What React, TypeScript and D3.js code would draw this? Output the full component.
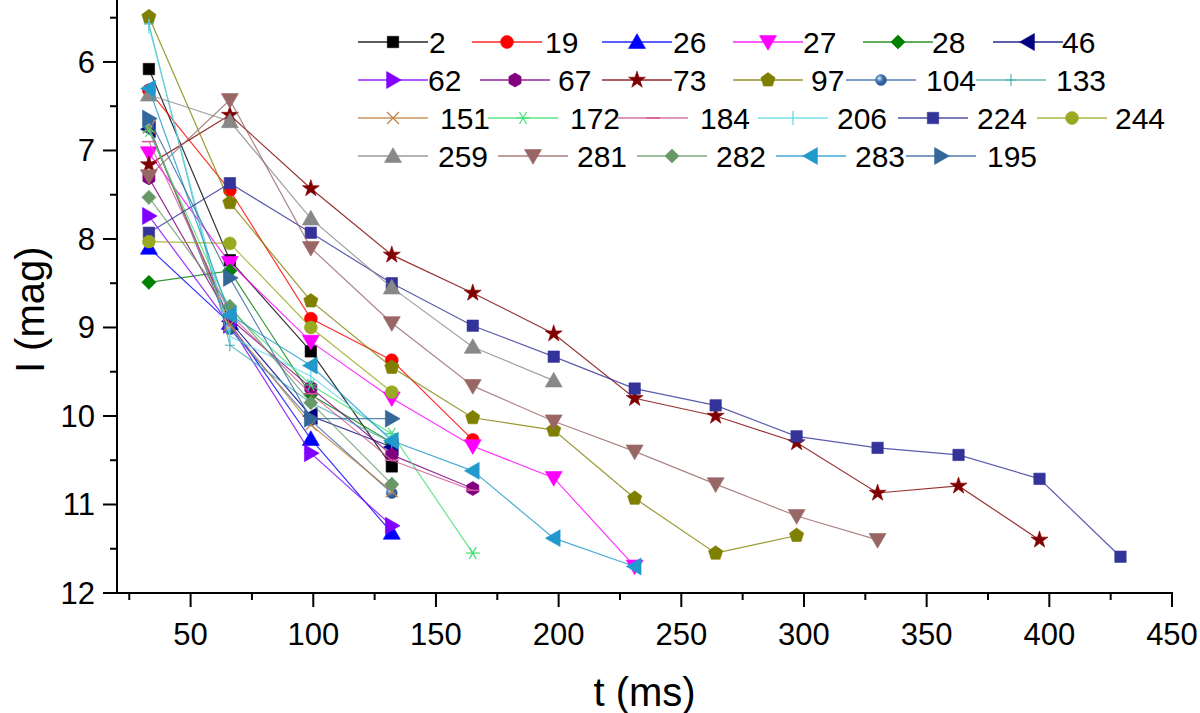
import * as d3 from 'd3';
import * as React from 'react';

// sample times (ms)
const times = [33, 66, 99, 132, 165, 198, 231, 264, 297, 330, 363, 396, 429];

// magnitudes per star
const s2 = [6.08, 8.24, 9.27, 10.57];
const s19 = [6.32, 7.45, 8.9, 9.37, 10.27];
const s26 = [8.1, 8.95, 10.26, 11.32];
const s27 = [7.03, 8.27, 9.16, 9.8, 10.34, 10.7, 11.7];
const s28 = [8.49, 8.36, 9.76, 10.3];
const s46 = [6.76, 8.93, 10.0, 10.35];
const s62 = [7.74, 8.97, 10.42, 11.24];
const s67 = [7.31, 8.9, 9.68, 10.44, 10.82];
const s73 = [7.16, 6.6, 7.43, 8.18, 8.61, 9.07, 9.8, 10.0, 10.3, 10.87, 10.79, 11.4];
const s97 = [5.49, 7.59, 8.7, 9.45, 10.02, 10.16, 10.93, 11.55, 11.35];
const s104 = [6.72, 9.02, 10.05, 10.87];
const s133 = [5.57, 9.2, 9.85, 10.3];
const s151 = [6.74, 8.97, 10.1, 10.85];
const s172 = [6.78, 8.8, 9.65, 10.2, 11.55];
const s184 = [6.9, 8.85, 9.75, 10.5, 10.84];
const s206 = [5.6, 9.1, 9.55, 10.25];
const s224 = [7.93, 7.37, 7.93, 8.5, 8.98, 9.33, 9.69, 9.88, 10.23, 10.36, 10.44, 10.71, 11.59];
const s244 = [8.03, 8.05, 9.0, 9.73];
const s259 = [6.37, 6.67, 7.77, 8.55, 9.22, 9.6];
const s281 = [7.29, 6.43, 8.1, 8.95, 9.66, 10.06, 10.4, 10.77, 11.13, 11.4];
const s282 = [7.53, 8.76, 9.85, 10.77];
const s283 = [6.3, 8.86, 9.43, 10.28, 10.62, 11.38, 11.7];
const s195 = [6.64, 8.44, 10.03, 10.03];

const names = ['2', '19', '26', '27', '28', '46', '62', '67', '73', '97', '104', '133', '151', '172', '184', '206', '224', '244', '259', '281', '282', '283', '195'];
const values = [s2, s19, s26, s27, s28, s46, s62, s67, s73, s97, s104, s133, s151, s172, s184, s206, s224, s244, s259, s281, s282, s283, s195];

const xTicks = [50, 100, 150, 200, 250, 300, 350, 400, 450];
const yTicks = [6, 7, 8, 9, 10, 11, 12];

// styles
const colors = ['#000000', '#ff0000', '#0000ff', '#ff00ff', '#008000', '#000080', '#8000ff', '#800080', '#800000', '#808000', '#3366a6', '#40b0b0', '#c08040', '#40e070', '#d05a9a', '#60d8e8', '#333399', '#99aa22', '#888888', '#996666', '#669966', '#2299cc', '#336699'];
const symbols = ['square', 'circle', 'up', 'down', 'diamond', 'left', 'right', 'hexagon', 'star', 'pentagon', 'sphere', 'plus', 'times', 'asterisk', 'hbar', 'vbar', 'square', 'circle', 'up', 'down', 'diamond', 'left', 'right'];

// legend layout (4 rows)
const legendRows = [[0, 1, 2, 3, 4, 5], [6, 7, 8, 9, 10, 11], [12, 13, 14, 15, 16, 17], [18, 19, 20, 21, 22]];
const legendLineX = [[358, 472, 602, 733, 863, 993], [358, 480, 602, 733, 846, 976], [358, 488, 618, 758, 898, 1037], [358, 498, 637, 776, 906]];
const legendTextX = [[429, 545, 673, 803, 932, 1062], [428, 558, 673, 811, 926, 1056], [440, 570, 700, 837, 977, 1115], [438, 577, 716, 855, 987]];
const legendRowY = [42, 80, 118, 156];

const W = 1200;
const H = 713;
const plot = { left: 117, right: 1172, top: 0, bottom: 593 };
const FONT = '"Liberation Sans", Arial, sans-serif';

const polygon = (n: number, r: number, rot: number) => {
  const pts = d3.range(n).map((i) => {
    const a = rot + (i * 2 * Math.PI) / n;
    return [r * Math.cos(a), r * Math.sin(a)];
  });
  return 'M' + pts.map((p) => p[0].toFixed(2) + ',' + p[1].toFixed(2)).join('L') + 'Z';
};

const Marker = ({ kind, color, x, y }: { kind: string; color: string; x: number; y: number }) => {
  const t = `translate(${x},${y})`;
  const fillProps = { fill: color, stroke: color, strokeWidth: 0.6 };
  switch (kind) {
    case 'square':
      return <path transform={t} d={d3.symbol().type(d3.symbolSquare).size(130)()!} {...fillProps} />;
    case 'circle':
      return <path transform={t} d={d3.symbol().type(d3.symbolCircle).size(130)()!} {...fillProps} />;
    case 'up':
      return <path transform={t + ' translate(0,1.5)'} d={d3.symbol().type(d3.symbolTriangle).size(125)()!} {...fillProps} />;
    case 'down':
      return <path transform={t + ' rotate(180) translate(0,1.5)'} d={d3.symbol().type(d3.symbolTriangle).size(125)()!} {...fillProps} />;
    case 'left':
      return <path transform={t + ' rotate(-90) translate(0,1.5)'} d={d3.symbol().type(d3.symbolTriangle).size(125)()!} {...fillProps} />;
    case 'right':
      return <path transform={t + ' rotate(90) translate(0,1.5)'} d={d3.symbol().type(d3.symbolTriangle).size(125)()!} {...fillProps} />;
    case 'diamond':
      return <path transform={t + ' rotate(45)'} d={d3.symbol().type(d3.symbolSquare).size(100)()!} {...fillProps} />;
    case 'hexagon':
      return <path transform={t} d={polygon(6, 7, Math.PI / 6)} {...fillProps} />;
    case 'pentagon':
      return <path transform={t} d={polygon(5, 7.5, -Math.PI / 2)} {...fillProps} />;
    case 'star':
      return <path transform={t} d={d3.symbol().type(d3.symbolStar).size(90)()!} {...fillProps} />;
    case 'sphere':
      return (
        <g transform={t}>
          <circle r={5.5} fill="url(#sphereGrad)" stroke={color} strokeWidth={0.5} />
        </g>
      );
    case 'plus':
      return <path transform={t} d="M-5,0H5M0,-6V6" stroke={color} strokeWidth={1.1} fill="none" />;
    case 'times':
      return <path transform={t} d="M-6,-6L6,6M-6,6L6,-6" stroke={color} strokeWidth={1.2} fill="none" />;
    case 'asterisk':
      return <path transform={t} d="M-7,0H7M-3.5,-6L3.5,6M-3.5,6L3.5,-6" stroke={color} strokeWidth={1.2} fill="none" />;
    case 'hbar':
      return <path transform={t} d="M-7,0H7" stroke={color} strokeWidth={1.5} fill="none" />;
    case 'vbar':
      return <path transform={t} d="M0,-7V7" stroke={color} strokeWidth={1.2} fill="none" />;
    default:
      return null;
  }
};

const App = () => {
  const x = d3.scaleLinear().domain([20, 450]).range([plot.left, plot.right]);
  const y = d3.scaleLinear().domain([5.3, 12]).range([plot.top, plot.bottom]);

  const line = d3
    .line<number>()
    .x((d, i) => x(times[i]))
    .y((d) => y(d));

  const xMinor = d3.range(25, 451, 25).filter((v) => v % 50 !== 0);
  const yMinor = d3.range(5.5, 12, 1);

  return (
    <svg width={W} height={H} style={{ position: 'absolute', left: 0, top: 0, background: '#fff' }} fontFamily={FONT}>
      <defs>
        <radialGradient id="sphereGrad" cx="0.35" cy="0.35" r="0.7">
          <stop offset="0" stopColor="#dfe9f5" />
          <stop offset="0.45" stopColor="#3f73b0" />
          <stop offset="1" stopColor="#234d80" />
        </radialGradient>
      </defs>

      {/* series */}
      {values.map((vals, k) => (
        <g key={names[k]}>
          <path d={line(vals)!} fill="none" stroke={colors[k]} strokeWidth={1.2} strokeOpacity={0.8} />
          {vals.map((v, i) => (
            <Marker key={i} kind={symbols[k]} color={colors[k]} x={x(times[i])} y={y(v)} />
          ))}
        </g>
      ))}

      {/* axes */}
      <g stroke="#000" strokeWidth={2}>
        <line x1={plot.left} x2={plot.left} y1={plot.top} y2={plot.bottom + 1} />
        <line x1={plot.left - 1} x2={plot.right + 1} y1={plot.bottom} y2={plot.bottom} />
        {xTicks.map((v) => (
          <line key={'xt' + v} x1={x(v)} x2={x(v)} y1={plot.bottom} y2={plot.bottom + 14} />
        ))}
        {xMinor.map((v) => (
          <line key={'xm' + v} x1={x(v)} x2={x(v)} y1={plot.bottom} y2={plot.bottom + 7} />
        ))}
        {yTicks.map((v) => (
          <line key={'yt' + v} x1={plot.left} x2={plot.left - 14} y1={y(v)} y2={y(v)} />
        ))}
        {yMinor.map((v) => (
          <line key={'ym' + v} x1={plot.left} x2={plot.left - 7} y1={y(v)} y2={y(v)} />
        ))}
      </g>
      <g fontSize={31} fill="#000">
        {xTicks.map((v) => (
          <text key={'xl' + v} x={x(v)} y={plot.bottom + 52} textAnchor="middle">
            {v}
          </text>
        ))}
        {yTicks.map((v) => (
          <text key={'yl' + v} x={plot.left - 22} y={y(v) + 11} textAnchor="end">
            {v}
          </text>
        ))}
      </g>
      <text x={(plot.left + plot.right) / 2} y={706} textAnchor="middle" fontSize={40}>
        t (ms)
      </text>
      <text transform={`translate(44,${y(8.8)}) rotate(-90)`} textAnchor="middle" fontSize={40}>
        I (mag)
      </text>

      {/* legend */}
      {legendRows.map((row, r) =>
        row.map((k, c) => {
          const lx = legendLineX[r][c];
          const ly = legendRowY[r];
          return (
            <g key={'lg' + k}>
              <line x1={lx} x2={lx + 70} y1={ly} y2={ly} stroke={colors[k]} strokeWidth={1.3} strokeOpacity={0.85} />
              <Marker kind={symbols[k]} color={colors[k]} x={lx + 35} y={ly} />
              <text x={legendTextX[r][c]} y={ly + 11} fontSize={30} fill="#000">
                {names[k]}
              </text>
            </g>
          );
        })
      )}
    </svg>
  );
};

export default App;
